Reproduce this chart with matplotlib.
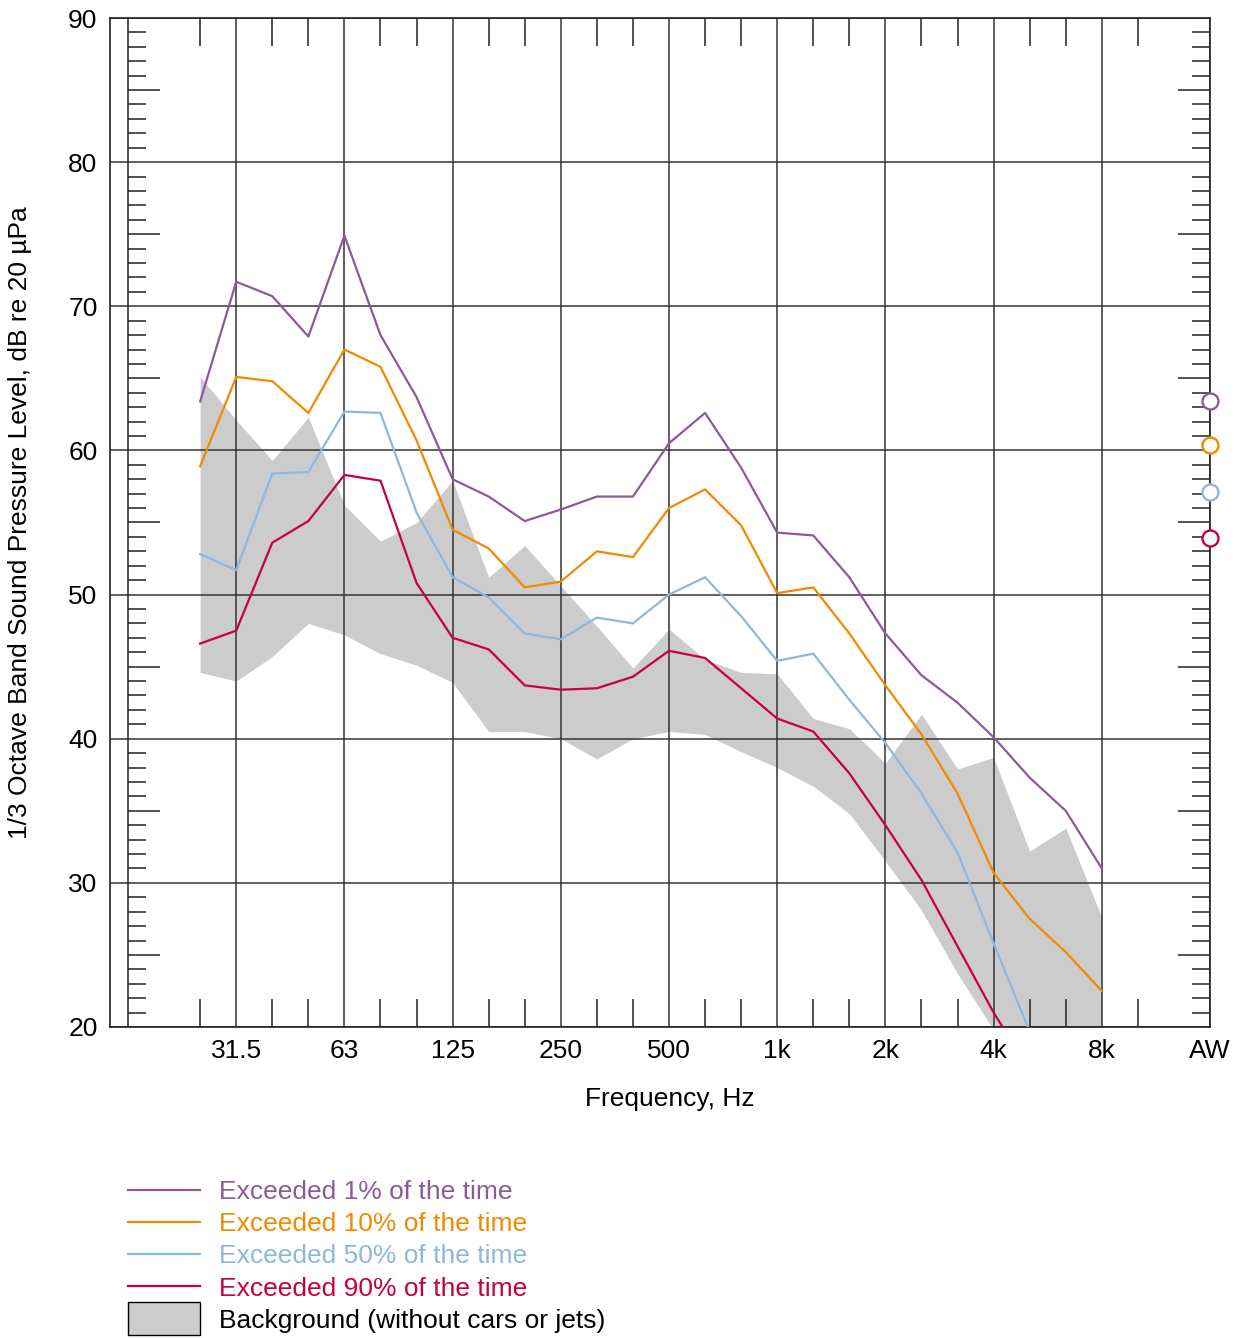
import matplotlib
matplotlib.use('Agg')
import matplotlib.pyplot as plt
import numpy as np
from matplotlib.patches import Rectangle, Patch
from matplotlib.legend_handler import HandlerPatch

plt.rcParams['font.family'] = ['Liberation Sans', 'DejaVu Sans']

# 1/3 octave bands, 25 Hz to 8 kHz (index positions on the x axis)
bands = ['25', '31.5', '40', '50', '63', '80', '100', '125', '160', '200', '250',
         '315', '400', '500', '630', '800', '1k', '1.25k', '1.6k', '2k', '2.5k',
         '3.15k', '4k', '5k', '6.3k', '8k']
major_labels = ['31.5', '63', '125', '250', '500', '1k', '2k', '4k', '8k']

# levels, dB re 20 uPa
l01 = [63.4, 71.7, 70.7, 67.9, 74.9, 68.0, 63.7, 58.0, 56.8, 55.1, 55.9, 56.8, 56.8,
       60.5, 62.6, 58.8, 54.3, 54.1, 51.2, 47.3, 44.4, 42.5, 40.1, 37.3, 35.0, 31.0]
l10 = [58.9, 65.1, 64.8, 62.6, 67.0, 65.8, 60.7, 54.5, 53.2, 50.5, 50.9, 53.0, 52.6,
       56.0, 57.3, 54.8, 50.1, 50.5, 47.3, 43.7, 40.3, 36.2, 30.7, 27.5, 25.2, 22.5]
l50 = [52.8, 51.7, 58.4, 58.5, 62.7, 62.6, 55.7, 51.2, 49.8, 47.3, 46.9, 48.4, 48.0,
       50.0, 51.2, 48.5, 45.4, 45.9, 42.7, 39.7, 36.2, 32.1, 25.8, 19.7]
l90 = [46.6, 47.5, 53.6, 55.1, 58.3, 57.9, 50.8, 47.0, 46.2, 43.7, 43.4, 43.5, 44.3,
       46.1, 45.6, 43.5, 41.4, 40.5, 37.6, 34.0, 30.2, 25.6, 21.0, 17.0]
bg_high = [65.1, 62.1, 59.3, 62.3, 56.2, 53.7, 55.0, 57.9, 51.2, 53.4, 50.6, 47.8, 44.9,
           47.6, 45.5, 44.6, 44.5, 41.4, 40.7, 38.3, 41.7, 37.9, 38.7, 32.2, 33.8, 27.6]
bg_low = [44.6, 44.0, 45.7, 48.0, 47.2, 45.9, 45.1, 43.9, 40.5, 40.5, 40.0, 38.6, 40.0,
          40.5, 40.3, 39.1, 38.0, 36.7, 34.8, 31.5, 28.1, 23.7, 19.8, 15.0, 15.0, 15.0]
# A-weighted overall levels
aw = [63.4, 60.4, 57.1, 53.9]

series_names = ['Exceeded 1% of the time', 'Exceeded 10% of the time',
                'Exceeded 50% of the time', 'Exceeded 90% of the time']
colors = ['#8c5a9a', '#f28a00', '#8fb7de', '#c8003c']
bg_name = 'Background (without cars or jets)'

fs = 19

fig = plt.figure(figsize=(12.44, 13.38), dpi=100)
ax = fig.add_axes([110 / 1244, 1 - 1027 / 1338, 1100 / 1244, 1009 / 1338])

x = np.arange(len(bands))
aw_x = len(bands) + 2  # AW column sits three steps after 8k

ax.fill_between(x, bg_low, bg_high, color='#cccccc', lw=0, zorder=1)

lines = []
for vals, c, name in zip([l01, l10, l50, l90], colors, series_names):
    ln, = ax.plot(x[:len(vals)], vals, color=c, lw=1.6, zorder=3, label=name)
    lines.append(ln)
for v, c in zip(aw, colors):
    ax.plot([aw_x], [v], 'o', ms=11.5, mfc='white', mec=c, mew=1.7,
            clip_on=False, zorder=5)

ax.set_xlim(-2.5, aw_x)
ax.set_ylim(20, 90)

# x ticks: labelled octave bands + AW, minor ticks on the other bands
major_pos = [bands.index(b) for b in major_labels] + [aw_x]
ax.set_xticks(major_pos)
ax.set_xticklabels(major_labels + ['AW'])
minor_pos = [i for i in range(len(bands) + 1) if i not in major_pos]
ax.set_xticks(minor_pos, minor=True)
ax.tick_params(axis='x', which='major', length=0, pad=9, labelsize=fs)
ax.tick_params(axis='x', which='minor', direction='in', length=20, width=1.2,
               color='#333333', top=True, bottom=True)
ax.set_yticks(np.arange(20, 91, 10))
ax.tick_params(axis='y', which='major', length=0, pad=9, labelsize=fs)

ax.grid(True, which='major', color='#333333', lw=1.1, zorder=2)
ax.axvline(-2, color='#222222', lw=1.1, zorder=2)

# dB scale ticks on the inner left line and on the right spine
dpx = 1 / 36.08
for v in range(21, 90):
    if v % 10 == 0:
        continue
    length = 32 * dpx if v % 5 == 0 else 18 * dpx
    ax.hlines(v, -2, -2 + length, color='#222222', lw=1.1, zorder=2)
    ax.hlines(v, aw_x - length, aw_x, color='#222222', lw=1.1, zorder=2)

for s in ax.spines.values():
    s.set_color('#222222')
    s.set_linewidth(1.2)

ax.set_xlabel('Frequency, Hz', fontsize=fs)
ax.xaxis.set_label_coords(0.509, -0.059)
ax.set_ylabel('1/3 Octave Band Sound Pressure Level, dB re 20 µPa', fontsize=fs)
ax.yaxis.set_label_coords(-0.071, 0.5)


def tall_patch(legend, orig_handle, xdescent, ydescent, width, height, fontsize):
    return Rectangle((-xdescent, -ydescent - 5), width, height + 10)


bg_proxy = Patch(facecolor='#cccccc', edgecolor='black', lw=1.0, label=bg_name)
leg = fig.legend(handles=lines + [bg_proxy], loc='upper left',
                 bbox_to_anchor=(128 / 1244, 1 - 1180 / 1338),
                 frameon=False, fontsize=fs, borderpad=0, borderaxespad=0,
                 handlelength=2.73, handletextpad=0.72, labelspacing=0.31,
                 handler_map={Patch: HandlerPatch(patch_func=tall_patch)})
for txt, c in zip(leg.get_texts(), colors + ['black']):
    txt.set_color(c)

fig.savefig('out.png', dpi=100)
